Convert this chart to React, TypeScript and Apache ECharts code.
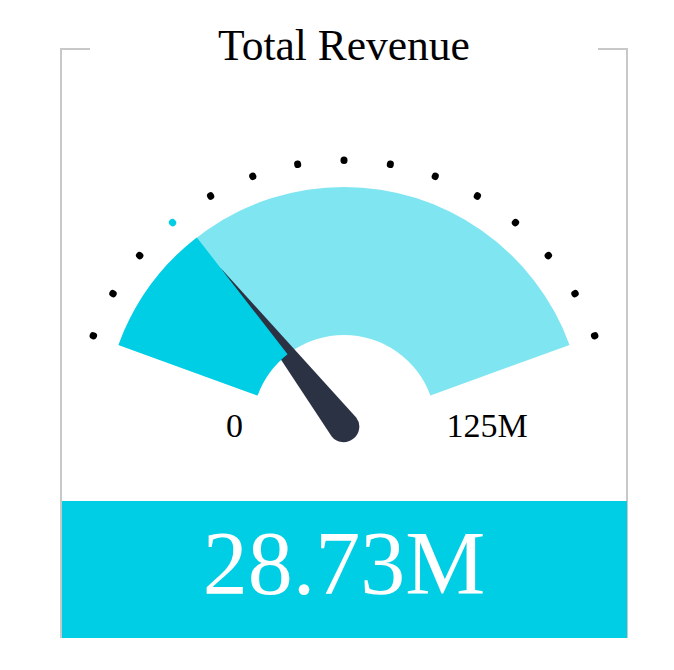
import React, { useEffect, useRef } from "react";
import * as echarts from "echarts";

const chartTitle = "Total Revenue";
const values = [28.73];
const scaleMin = 0;
const scaleMax = 125;
const tickLabels = ["0", "125M"];
const dotSplits = 14;
const unit = "M";

const CYAN = "#00cee4";
const LIGHT = "#7fe6f1";
const NEEDLE = "#2b3243";
const FRAME = "#c8c8c8";
const SERIF = "'Liberation Serif', 'Times New Roman', serif";

export default function App() {
  const ref = useRef<HTMLDivElement>(null);
  useEffect(() => {
    const chart = echarts.init(ref.current!, null, { renderer: "svg" });
    const v = values[0];
    const idx = Math.floor(((v - scaleMin) / (scaleMax - scaleMin)) * dotSplits);
    const lo = (idx - 0.5) / dotSplits;
    const hi = (idx + 0.5) / dotSplits;
    const center = [344, 427];
    chart.setOption({
      animation: false,
      series: [
        {
          type: "gauge",
          center,
          radius: 240,
          startAngle: 160,
          endAngle: 20,
          min: scaleMin,
          max: scaleMax,
          axisLine: { lineStyle: { width: 148, color: [[1, LIGHT]] } },
          progress: { show: true, width: 148, itemStyle: { color: CYAN } },
          splitLine: { show: false },
          axisTick: { show: false },
          axisLabel: { show: false },
          anchor: { show: false },
          pointer: {
            icon: "path://M15 0L30 201A15 15 0 0 1 0 201Z",
            width: 31,
            length: 217,
            offsetCenter: [0, 15],
            itemStyle: { color: NEEDLE },
          },
          title: { show: false },
          detail: { show: false },
          data: [{ value: v }],
        },
        {
          type: "gauge",
          center,
          radius: 267,
          startAngle: 160,
          endAngle: 20,
          min: scaleMin,
          max: scaleMax,
          splitNumber: dotSplits,
          axisLine: {
            show: false,
            lineStyle: { width: 6, color: [[lo, "#000"], [hi, CYAN], [1, "#000"]] },
          },
          progress: { show: false },
          splitLine: {
            show: true,
            distance: -6,
            length: 0.5,
            lineStyle: { width: 7, color: "auto", cap: "round" },
          },
          axisTick: { show: false },
          axisLabel: { show: false },
          anchor: { show: false },
          pointer: { show: false },
          title: { show: false },
          detail: { show: false },
          data: [{ value: v }],
        },
      ],
      graphic: [
        { type: "line", shape: { x1: 61, y1: 48, x2: 61, y2: 638 }, style: { stroke: FRAME, lineWidth: 2 } },
        { type: "line", shape: { x1: 60, y1: 49, x2: 90, y2: 49 }, style: { stroke: FRAME, lineWidth: 2 } },
        { type: "line", shape: { x1: 598, y1: 49, x2: 628, y2: 49 }, style: { stroke: FRAME, lineWidth: 2 } },
        { type: "line", shape: { x1: 627, y1: 48, x2: 627, y2: 638 }, style: { stroke: FRAME, lineWidth: 2 } },
        { type: "rect", shape: { x: 62, y: 501, width: 565, height: 137 }, style: { fill: CYAN } },
        {
          type: "text",
          x: 344,
          y: 563,
          style: {
            text: `${v.toFixed(2)}${unit}`,
            fill: "#fff",
            font: `90px ${SERIF}`,
            textAlign: "center",
            textVerticalAlign: "middle",
          },
        },
        {
          type: "text",
          x: 344,
          y: 44.5,
          style: {
            text: chartTitle,
            fill: "#000",
            font: `43.5px ${SERIF}`,
            textAlign: "center",
            textVerticalAlign: "middle",
          },
        },
        {
          type: "text",
          x: 234.5,
          y: 425.5,
          style: {
            text: tickLabels[0],
            fill: "#000",
            font: `34px ${SERIF}`,
            textAlign: "center",
            textVerticalAlign: "middle",
          },
        },
        {
          type: "text",
          x: 487,
          y: 425.5,
          style: {
            text: tickLabels[1],
            fill: "#000",
            font: `34px ${SERIF}`,
            textAlign: "center",
            textVerticalAlign: "middle",
          },
        },
      ],
    });
    return () => chart.dispose();
  }, []);
  return (
    <div
      ref={ref}
      style={{ position: "fixed", left: 0, top: 0, width: 674, height: 670, background: "#fff" }}
    />
  );
}
